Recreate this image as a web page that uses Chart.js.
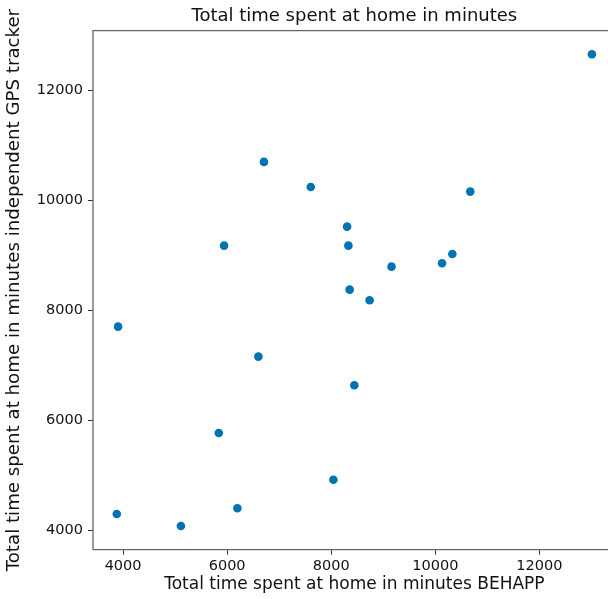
<!DOCTYPE html>
<html>
<head>
<meta charset="utf-8">
<script src="https://cdn.jsdelivr.net/npm/chart.js@4"></script>
<style>
  html, body { margin: 0; padding: 0; background: #fff; overflow: hidden; }
  #wrap { width: 608px; height: 599px; overflow: hidden; }
</style>
</head>
<body>
<div id="wrap"><canvas id="scatter" width="620" height="599"></canvas></div>
<script>
// minutes at home per participant: BEHAPP app vs. independent GPS tracker
const behappMinutes = [13010, 6707, 7607, 8305, 5941, 8330, 9159, 8354, 8738, 3904,
                       6600, 8444, 10672, 10328, 10130, 5839, 8042, 3879, 6197, 5111];
const gpsMinutes    = [12662, 10704, 10249, 9527, 9182, 9182, 8800, 8382, 8189, 7709,
                       7164, 6644, 10164, 9031, 8862, 5776, 4927, 4304, 4407, 4085];
const xTicks = [4000, 6000, 8000, 10000, 12000];
const yTicks = [4000, 6000, 8000, 10000, 12000];

const FONT = 'DejaVu Sans';
const TEXT = '#111';

// box around the plot area
const frame = {
  id: 'frame',
  beforeDatasetsDraw(chart) {
    const { ctx, chartArea: a } = chart;
    ctx.save();
    ctx.strokeStyle = '#666';
    ctx.lineWidth = 1.3;
    ctx.strokeRect(a.left, a.top, a.right - a.left, a.bottom - a.top);
    ctx.restore();
  }
};

const tickGrid = {
  display: true,
  drawOnChartArea: false,
  drawTicks: true,
  tickLength: 5,
  tickColor: '#333',
  tickWidth: 1
};

new Chart(document.getElementById('scatter'), {
  type: 'scatter',
  data: {
    datasets: [{
      data: behappMinutes.map((x, i) => ({ x: x, y: gpsMinutes[i] })),
      backgroundColor: '#0173b2',
      borderWidth: 0,
      pointRadius: 4.3,
      pointHoverRadius: 4.3
    }]
  },
  options: {
    responsive: false,
    animation: false,
    devicePixelRatio: 1,
    layout: { padding: { left: 0, right: 3, top: 0, bottom: 0 } },
    plugins: {
      legend: { display: false },
      tooltip: { enabled: false },
      title: {
        display: true,
        fullSize: false,
        text: 'Total time spent at home in minutes',
        color: TEXT,
        font: { family: FONT, size: 18, weight: 'normal' },
        padding: { top: 6, bottom: 3 }
      }
    },
    scales: {
      x: {
        type: 'linear',
        min: 3422,
        max: 13467,
        afterBuildTicks: s => { s.ticks = xTicks.map(v => ({ value: v })); },
        afterFit: s => { s.height = 49.4; },
        grid: tickGrid,
        border: { display: false },
        ticks: {
          color: TEXT,
          font: { family: FONT, size: 14.5 },
          padding: 3,
          maxRotation: 0,
          callback: v => String(v)
        },
        title: {
          display: true,
          text: 'Total time spent at home in minutes BEHAPP',
          color: TEXT,
          font: { family: FONT, size: 17 },
          padding: { top: 0, bottom: 4 }
        }
      },
      y: {
        type: 'linear',
        min: 3656,
        max: 13091,
        afterBuildTicks: s => { s.ticks = yTicks.map(v => ({ value: v })); },
        afterFit: s => { s.width = 93; },
        grid: tickGrid,
        border: { display: false },
        ticks: {
          color: TEXT,
          font: { family: FONT, size: 14.5 },
          padding: 5,
          callback: v => String(v)
        },
        title: {
          display: true,
          text: 'Total time spent at home in minutes independent GPS tracker',
          color: TEXT,
          font: { family: FONT, size: 18.2 },
          padding: { top: 3, bottom: 0 }
        }
      }
    }
  },
  plugins: [frame]
});
</script>
</body>
</html>
